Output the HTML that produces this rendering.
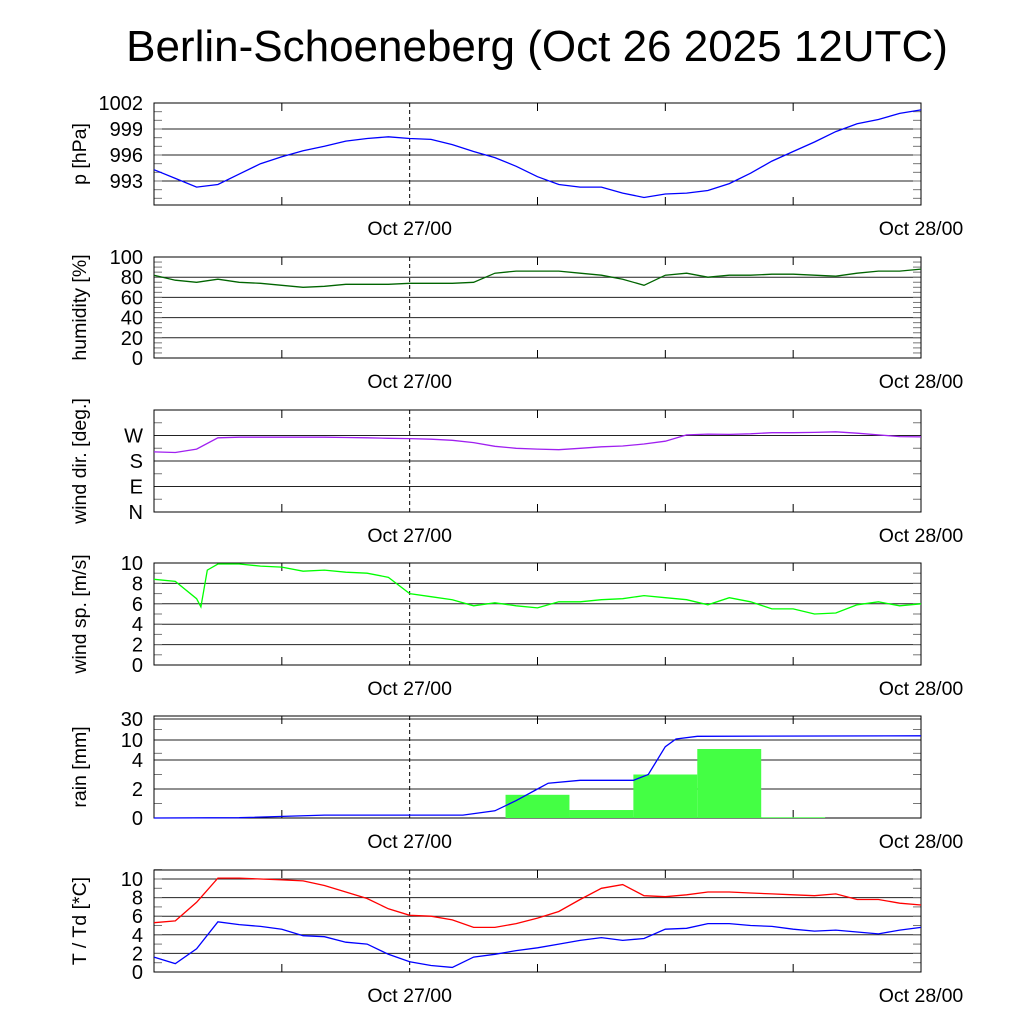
<!DOCTYPE html>
<html><head><meta charset="utf-8"><style>
body{margin:0;background:#fff}
svg{display:block;font-family:"Liberation Sans",sans-serif}
</style></head><body>
<svg id="c" width="1024" height="1024" viewBox="0 0 1024 1024" xmlns="http://www.w3.org/2000/svg">
<text x="537" y="61" font-size="44" text-anchor="middle">Berlin-Schoeneberg (Oct 26 2025 12UTC)</text>
</svg>
<script>
// hours since Oct 26 12UTC, 0..36
const hours=[0,1,2,3,4,5,6,7,8,9,10,11,12,13,14,15,16,17,18,19,20,21,22,23,24,25,26,27,28,29,30,31,32,33,34,35,36];
const pressure=[994.3,993.3,992.3,992.6,993.8,995.0,995.8,996.5,997.0,997.6,997.9,998.1,997.9,997.8,997.2,996.4,995.7,994.7,993.5,992.6,992.3,992.3,991.6,991.1,991.5,991.6,991.9,992.7,993.9,995.3,996.4,997.5,998.7,999.6,1000.1,1000.8,1001.2];
const humidity=[82,77,75,78,75,74,72,70,71,73,73,73,74,74,74,75,84,86,86,86,84,82,78,72,82,84,80,82,82,83,83,82,81,84,86,86,88];
const windDir=[212,210,222,262,264,264,264,264,264,263,262,260,259,257,253,245,232,225,222,220,225,230,233,240,250,272,275,274,276,280,280,281,283,278,272,266,265];
const windHours=[0,1,2,2.2,2.5,3,4,5,6,7,8,9,10,11,12,13,14,15,16,17,18,19,20,21,22,23,24,25,26,27,28,29,30,31,32,33,34,35,36];
const windSpeed=[8.4,8.2,6.5,5.7,9.3,9.9,9.9,9.7,9.6,9.2,9.3,9.1,9.0,8.6,7.0,6.7,6.4,5.8,6.1,5.8,5.6,6.2,6.2,6.4,6.5,6.8,6.6,6.4,5.9,6.6,6.2,5.5,5.5,5.0,5.1,5.9,6.2,5.8,6.0];
const temp=[5.3,5.5,7.5,10.1,10.1,10.0,9.9,9.8,9.3,8.6,7.9,6.8,6.1,6.0,5.6,4.8,4.8,5.2,5.8,6.5,7.8,9.0,9.4,8.2,8.1,8.3,8.6,8.6,8.5,8.4,8.3,8.2,8.4,7.8,7.8,7.4,7.2];
const dew=[1.6,0.9,2.5,5.4,5.1,4.9,4.6,3.9,3.8,3.2,3.0,1.9,1.1,0.7,0.5,1.6,1.9,2.3,2.6,3.0,3.4,3.7,3.4,3.6,4.6,4.7,5.2,5.2,5.0,4.9,4.6,4.4,4.5,4.3,4.1,4.5,4.8];
const rainBinStart=[16.5,19.5,22.5,25.5,28.5];
const rainBinValue=[1.6,0.55,3.0,7.3,0.05];
const rainCumHours=[0,4,8,14.5,16,17,18,18.5,20,22.5,23.2,24,24.5,25.5,36];
const rainCum=[0,0.02,0.2,0.2,0.5,1.2,2.0,2.4,2.6,2.6,3.0,8,11,13.5,14];
const rainTicks=[0,2,4,10,30];

const NS="http://www.w3.org/2000/svg";
const svg=document.getElementById('c');
const X0=154,X1=921;
const xs=h=>X0+(X1-X0)*h/36;
function el(tag,attrs,parent){const e=document.createElementNS(NS,tag);for(const k in attrs)e.setAttribute(k,attrs[k]);(parent||svg).appendChild(e);return e;}
function panel(name,top,bot,yfun,ticks,tickLabels,minor,label){
  const g=el('g',{});
  
  
  ticks.forEach((t,i)=>{const y=yfun(t);
    const ln=el('line',{x1:X0,x2:X1,y1:y,y2:y,stroke:'#222','stroke-width':1},g);
    
    
    const tx=el('text',{x:143,y:y+7,'font-size':20,'text-anchor':'end'},g);
    tx.textContent=tickLabels[i];
    
    
  });
  minor.forEach(t=>{const y=yfun(t);el('line',{x1:X0,x2:X0+8,y1:y,y2:y,stroke:'#777'},g);el('line',{x1:X1-8,x2:X1,y1:y,y2:y,stroke:'#777'},g);});
  [6,18,24,30].forEach(h=>{el('line',{x1:xs(h),x2:xs(h),y1:top,y2:top+8,stroke:'#000'},g);el('line',{x1:xs(h),x2:xs(h),y1:bot-8,y2:bot,stroke:'#000'},g);});
  const d=el('line',{x1:xs(12),x2:xs(12),y1:top,y2:bot,stroke:'#000','stroke-dasharray':'4,3'},g);
  
  
  const fr=el('rect',{x:X0,y:top,width:X1-X0,height:bot-top,fill:'none',stroke:'#000','stroke-width':1},g);
  
  
  [[12,'Oct 27/00'],[36,'Oct 28/00']].forEach(([h,t])=>{const tx=el('text',{x:xs(h),y:bot+30,'font-size':19.5,'text-anchor':'middle'},g);tx.textContent=t;
    
    });
  const yl=el('text',{transform:`translate(${80},${(top+bot)/2}) rotate(-90)`,'font-size':19.5,'text-anchor':'middle','dominant-baseline':'central'},g);
  yl.textContent=label;
  
  
  return g;
}
function line(name,hs,vals,yfun,color){
  const p=el('polyline',{points:hs.map((h,i)=>xs(h).toFixed(1)+','+yfun(vals[i]).toFixed(1)).join(' '),fill:'none',stroke:color,'stroke-width':1.3});
  
  
}
function lin(top,bot,lo,hi){return v=>bot-(v-lo)/(hi-lo)*(bot-top);}
function range(a,b,s){const r=[];for(let v=a;v<=b+1e-9;v+=s)r.push(v);return r;}

let yP=v=>181-(v-993)*(78/9);
panel('pressure',103,205,yP,[1002,999,996,993],['1002','999','996','993'],range(991,1001,1),'p [hPa]');
line('pressure-line',hours,pressure,yP,'#0000ff');
let yH=lin(257,358,0,100);
panel('humidity',257,358,yH,[0,20,40,60,80,100],['0','20','40','60','80','100'],range(5,95,5),'humidity [%]');
line('humidity-line',hours,humidity,yH,'#006400');
let yD=lin(410,512,0,360);
panel('wind-dir',410,512,yD,[0,90,180,270],['N','E','S','W'],range(45,315,90).concat([360]),'wind dir. [deg.]');
line('wind-dir-line',hours,windDir,yD,'#a020f0');
let yW=lin(563,665,0,10);
panel('wind-speed',563,665,yW,[0,2,4,6,8,10],['0','2','4','6','8','10'],range(1,9,1),'wind sp. [m/s]');
line('wind-speed-line',windHours,windSpeed,yW,'#00ff00');
const rainY=[818,789,760,740,719];
function yR(v){for(let i=0;i<rainTicks.length-1;i++){if(v<=rainTicks[i+1])return rainY[i]+(v-rainTicks[i])/(rainTicks[i+1]-rainTicks[i])*(rainY[i+1]-rainY[i]);}return rainY[4];}
panel('rain',716,818,yR,rainTicks,rainTicks.map(String),[1,3,6,20],'rain [mm]');
rainBinStart.forEach((h,i)=>{const y=yR(rainBinValue[i]);
  const r=el('rect',{x:xs(h),y:y,width:xs(h+3)-xs(h),height:818-y,fill:'#44ff44'});
  
  });
line('rain-cumulative-line',rainCumHours,rainCum,yR,'#0000ff');
let yT=v=>972-v*9.3;
panel('temperature',870,972,yT,[0,2,4,6,8,10],['0','2','4','6','8','10'],range(1,11,1),'T / Td [*C]');
line('temperature-line',hours,temp,yT,'#ff0000');
line('dewpoint-line',hours,dew,yT,'#0000ff');
</script>
</body></html>
